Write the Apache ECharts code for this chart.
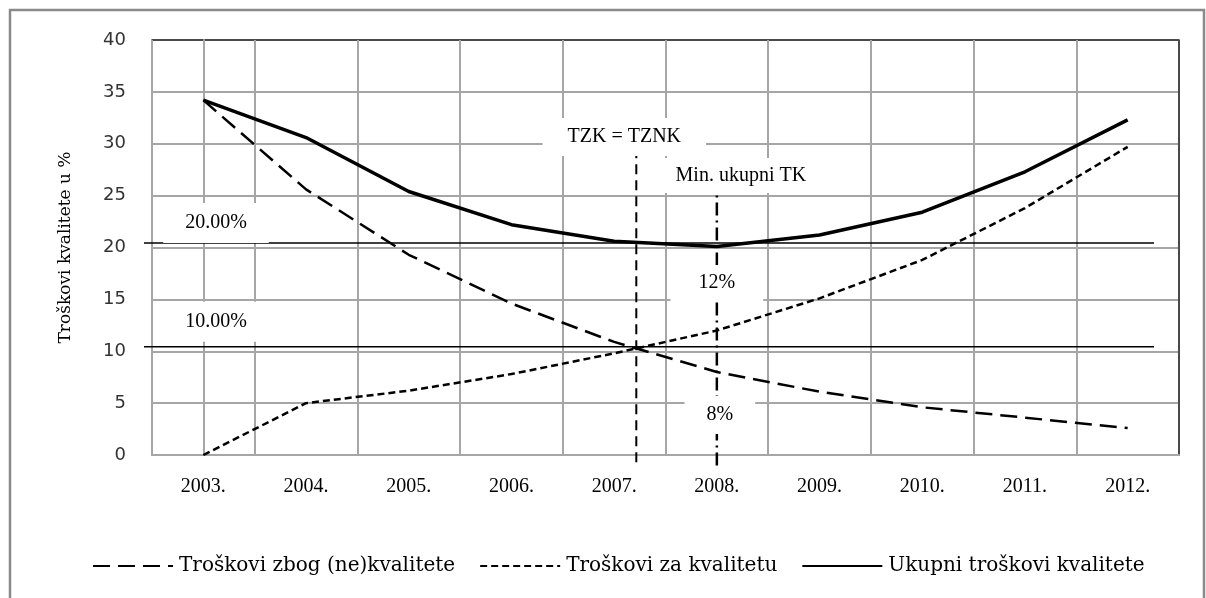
<!DOCTYPE html>
<html>
<head>
<meta charset="utf-8">
<script src="https://cdn.jsdelivr.net/npm/echarts@6/dist/echarts.min.js"></script>
<style>
  html, body { margin: 0; padding: 0; background: #fff; }
  #chart { width: 1206px; height: 598px; }
</style>
</head>
<body>
<div id="chart"></div>
<script>
// Years on the category axis
const years = ['2003.', '2004.', '2005.', '2006.', '2007.', '2008.', '2009.', '2010.', '2011.', '2012.'];

// Costs in % per year
const costNonQuality = [34.2, 25.6, 19.3, 14.6, 10.9, 8, 6.1, 4.6, 3.6, 2.6];
const costQuality    = [0, 5, 6.2, 7.8, 9.8, 12, 15.1, 18.8, 23.8, 29.7];
const totalCost      = [34.2, 30.6, 25.4, 22.2, 20.6, 20.1, 21.2, 23.4, 27.3, 32.3];

const seriesNames = ['Troškovi zbog (ne)kvalitete', 'Troškovi za kvalitetu', 'Ukupni troškovi kvalitete'];

// Horizontal reference levels and their captions
const refLevels = [20, 10];
const refLabels = ['20.00%', '10.00%'];

// Vertical extents (in axis units) of the two marker lines
const crossSpan = [-0.7, 29.2];
const minSpan = [-1, 25.3];

// Where the two cost curves cross (fractional category index)
function crossingIndex(a, b) {
  for (let i = 0; i < a.length - 1; i++) {
    const d0 = a[i] - b[i], d1 = a[i + 1] - b[i + 1];
    if (d0 > 0 && d1 <= 0) return i + d0 / (d0 - d1);
  }
  return 0;
}
const crossAt = crossingIndex(costNonQuality, costQuality);
const minIdx = totalCost.indexOf(Math.min(...totalCost));

const serif = 'Liberation Serif';
const gridGray = '#a6a6a6';
const dark = '#4a4a4a';

const chart = echarts.init(document.getElementById('chart'), null, { renderer: 'canvas' });

const ySplitColors = Array(8).fill(gridGray).concat([dark]);
const xSplitColors = Array(10).fill(gridGray).concat([dark]);

chart.setOption({
  animation: false,
  backgroundColor: '#fff',
  grid: [
    { left: 152, right: 27, top: 40, bottom: 143, show: true, borderColor: dark, borderWidth: 1.5 },
    { left: 144, right: 52, top: 35.5, bottom: 147.5 }
  ],
  xAxis: [
    {
      type: 'category', gridIndex: 0, data: years, boundaryGap: true,
      axisLine: { lineStyle: { color: gridGray, width: 2 } },
      axisTick: { show: false },
      axisLabel: { margin: 22, color: '#000', fontFamily: serif, fontSize: 20 },
      splitLine: { show: true, interval: 0, lineStyle: { color: xSplitColors, width: 2 } }
    },
    { type: 'value', gridIndex: 0, min: -0.5, max: 9.5, show: false },
    { type: 'value', gridIndex: 1, min: 0, max: 1, show: false }
  ],
  yAxis: [
    {
      type: 'value', gridIndex: 0, min: 0, max: 40, interval: 5,
      name: 'Troškovi kvalitete u %', nameLocation: 'middle', nameGap: 78, nameRotate: 90,
      nameTextStyle: { fontFamily: 'DejaVu Serif', fontSize: 17, color: '#000' },
      axisLine: { show: true, lineStyle: { color: gridGray, width: 2 } },
      axisTick: { show: false },
      axisLabel: { margin: 26, color: '#333', fontFamily: 'DejaVu Sans', fontSize: 18 },
      splitLine: { lineStyle: { color: ySplitColors, width: 2 } }
    },
    { type: 'value', gridIndex: 1, min: 0, max: 40, show: false }
  ],
  legend: {
    data: seriesNames,
    left: 87, top: 551,
    itemWidth: 80, itemHeight: 14, itemGap: 24,
    itemStyle: { opacity: 0 },
    textStyle: { fontFamily: 'DejaVu Serif', fontSize: 20, color: '#000', padding: [0, 0, 0, 1] }
  },
  series: [
    {
      name: seriesNames[0], type: 'line', data: costNonQuality, symbol: 'none', z: 5,
      lineStyle: { color: '#000', width: 2.5, type: [17, 8] }, itemStyle: { color: '#000' }
    },
    {
      name: seriesNames[1], type: 'line', data: costQuality, symbol: 'none', z: 5,
      lineStyle: { color: '#000', width: 2.5, type: [7, 4] }, itemStyle: { color: '#000' }
    },
    {
      name: seriesNames[2], type: 'line', data: totalCost, symbol: 'none', z: 6,
      lineStyle: { color: '#000', width: 3.5 }, itemStyle: { color: '#000' }
    },
    ...refLevels.map(v => ({
      type: 'line', xAxisIndex: 2, yAxisIndex: 1, symbol: 'none', silent: true, z: 4,
      data: [[0, v], [1, v]],
      lineStyle: { color: '#000', width: 1.6 }
    })),
    {
      type: 'line', xAxisIndex: 1, yAxisIndex: 0, symbol: 'none', silent: true, clip: false, z: 7,
      data: [[crossAt, crossSpan[0]], [crossAt, crossSpan[1]]],
      lineStyle: { color: '#000', width: 2, type: [10, 6] }
    },
    {
      type: 'line', xAxisIndex: 1, yAxisIndex: 0, symbol: 'none', silent: true, clip: false, z: 7,
      data: [[minIdx, minSpan[0]], [minIdx, minSpan[1]]],
      lineStyle: { color: '#000', width: 2.5, type: [13, 5, 2, 5] }
    }
  ]
});

// Captions in white boxes, placed relative to the lines they describe
function caption(text, x, y, pad) {
  return {
    type: 'text', z: 100, silent: true,
    style: {
      text: text, x: x, y: y, align: 'center', verticalAlign: 'middle',
      font: '20px "Liberation Serif"', fill: '#000',
      backgroundColor: '#fff', padding: pad
    }
  };
}
const refStart = refLevels.map((v, i) => chart.convertToPixel({ seriesIndex: 3 + i }, [0, v]));
const crossTop = chart.convertToPixel({ seriesIndex: 5 }, [crossAt, crossSpan[1]]);
const minTop = chart.convertToPixel({ seriesIndex: 6 }, [minIdx, minSpan[1]]);
const minBase = chart.convertToPixel({ seriesIndex: 6 }, [minIdx, 0]);

const captions = [
  caption(refLabels[0], refStart[0][0] + 72, refStart[0][1] - 20, [10, 22]),
  caption(refLabels[1], refStart[1][0] + 72, refStart[1][1] - 25, [10, 22]),
  caption('TZK = TZNK', crossTop[0] - 12, crossTop[1] - 15, [9, 25]),
  caption('Min. ukupni TK', minTop[0] + 24, minTop[1] - 17, [11, 24, 4, 24]),
  caption(costQuality[minIdx] + '%', minBase[0], minBase[1] - 172, [8, 28]),
  caption(costNonQuality[minIdx] + '%', minBase[0] + 3, minBase[1] - 40, [9, 22])
];

chart.setOption({
  graphic: [
    {
      type: 'rect', z: 100, silent: true,
      shape: { x: 10, y: 10, width: 1194, height: 640 },
      style: { fill: 'none', stroke: '#8a8a8a', lineWidth: 2.5 }
    },
    ...captions
  ]
});
</script>
</body>
</html>
